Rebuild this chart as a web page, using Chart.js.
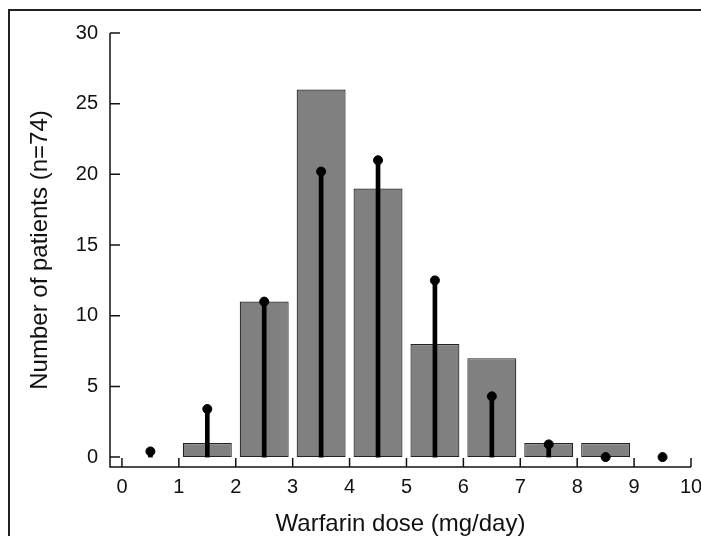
<!DOCTYPE html>
<html>
<head>
<meta charset="utf-8">
<script src="https://cdn.jsdelivr.net/npm/chart.js@4.4.1/dist/chart.umd.min.js"></script>
<style>
  html, body { margin: 0; padding: 0; background: #fff; }
  #wrap { width: 701px; height: 536px; position: relative; }
</style>
</head>
<body>
<div id="wrap"><canvas id="doseChart"></canvas></div>
<script>
// dose bins (mg/day), midpoints of each 1 mg bin
const binMids = [0.5, 1.5, 2.5, 3.5, 4.5, 5.5, 6.5, 7.5, 8.5, 9.5]
// observed number of patients per bin (bars)
const patientCounts = [0, 1, 11, 26, 19, 8, 7, 1, 1, 0]
// predicted number per bin (lollipops)
const predictedCounts = [0.4, 3.4, 11, 20.2, 21, 12.5, 4.3, 0.9, 0, 0]
const xTicks = [0, 1, 2, 3, 4, 5, 6, 7, 8, 9, 10]
const yTicks = [0, 5, 10, 15, 20, 25, 30]

const ink = '#111'
const font = 'Liberation Sans, Arial, Helvetica, sans-serif'

const axesPlugin = {
  id: 'axes',
  beforeDraw(chart) {
    const ctx = chart.ctx
    // frame of the original figure
    ctx.save()
    ctx.strokeStyle = '#222'
    ctx.lineWidth = 2
    ctx.beginPath()
    ctx.moveTo(9, chart.height)
    ctx.lineTo(9, 10)
    ctx.lineTo(chart.width, 10)
    ctx.stroke()
    ctx.restore()
  },
  afterDraw(chart) {
    const { ctx, chartArea, scales: { x, y } } = chart
    ctx.save()
    ctx.strokeStyle = ink
    ctx.lineWidth = 1.5
    ctx.beginPath()
    ctx.moveTo(chartArea.left, chartArea.top)
    ctx.lineTo(chartArea.left, chartArea.bottom)
    ctx.lineTo(chartArea.right, chartArea.bottom)
    xTicks.forEach(v => {
      const px = x.getPixelForValue(v)
      ctx.moveTo(px, chartArea.bottom)
      ctx.lineTo(px, chartArea.bottom - 9)
    })
    yTicks.forEach(v => {
      const py = y.getPixelForValue(v)
      ctx.moveTo(chartArea.left, py)
      ctx.lineTo(chartArea.left + 10, py)
    })
    ctx.stroke()
    ctx.restore()
  }
}

new Chart(document.getElementById('doseChart'), {
  type: 'bar',
  data: {
    datasets: [
      {
        type: 'scatter',
        data: binMids.map((x, i) => ({ x, y: predictedCounts[i] })),
        backgroundColor: '#000',
        borderColor: '#000',
        pointRadius: 4.5,
        pointHoverRadius: 4.5,
        order: 1,
      },
      {
        data: binMids.map((x, i) => ({ x, y: predictedCounts[i] })),
        backgroundColor: '#000',
        barThickness: 4,
        grouped: false,
        order: 2,
      },
      {
        data: binMids.map((x, i) => ({ x, y: patientCounts[i] || null })),
        backgroundColor: '#808080',
        borderColor: '#222',
        borderWidth: 1.2,
        borderSkipped: false,
        categoryPercentage: 1,
        barPercentage: 0.86,
        grouped: false,
        order: 3,
      },
    ],
  },
  options: {
    responsive: true,
    maintainAspectRatio: false,
    animation: false,
    layout: { padding: { top: 33, right: 10, bottom: 0, left: 28 } },
    plugins: { legend: { display: false }, tooltip: { enabled: false } },
    scales: {
      x: {
        type: 'linear',
        offset: false,
        min: -0.21,
        max: 10,
        afterBuildTicks: s => { s.ticks = xTicks.map(v => ({ value: v })) },
        afterFit: s => {
          s.height = 69
          // let the "10" label run to the edge like the original
          s.paddingLeft = 0
          s.paddingRight = 0
        },
        grid: { display: false, drawTicks: false, offset: false },
        border: { display: false },
        ticks: { color: ink, font: { family: font, size: 20 }, padding: 8, autoSkip: false, maxRotation: 0 },
        title: {
          display: true,
          text: 'Warfarin dose (mg/day)',
          color: ink,
          font: { family: font, size: 24, lineHeight: 1 },
          padding: 0,
        },
      },
      y: {
        min: -0.7,
        max: 30,
        afterBuildTicks: s => { s.ticks = yTicks.map(v => ({ value: v })) },
        afterFit: s => { s.width = 82 },
        grid: { display: false, drawTicks: false },
        border: { display: false },
        ticks: { color: ink, font: { family: font, size: 20 }, padding: 12 },
        title: {
          display: true,
          text: 'Number of patients (n=74)',
          color: ink,
          font: { family: font, size: 24, lineHeight: 1 },
          padding: 0,
        },
      },
    },
  },
  plugins: [axesPlugin],
})
</script>
</body>
</html>
